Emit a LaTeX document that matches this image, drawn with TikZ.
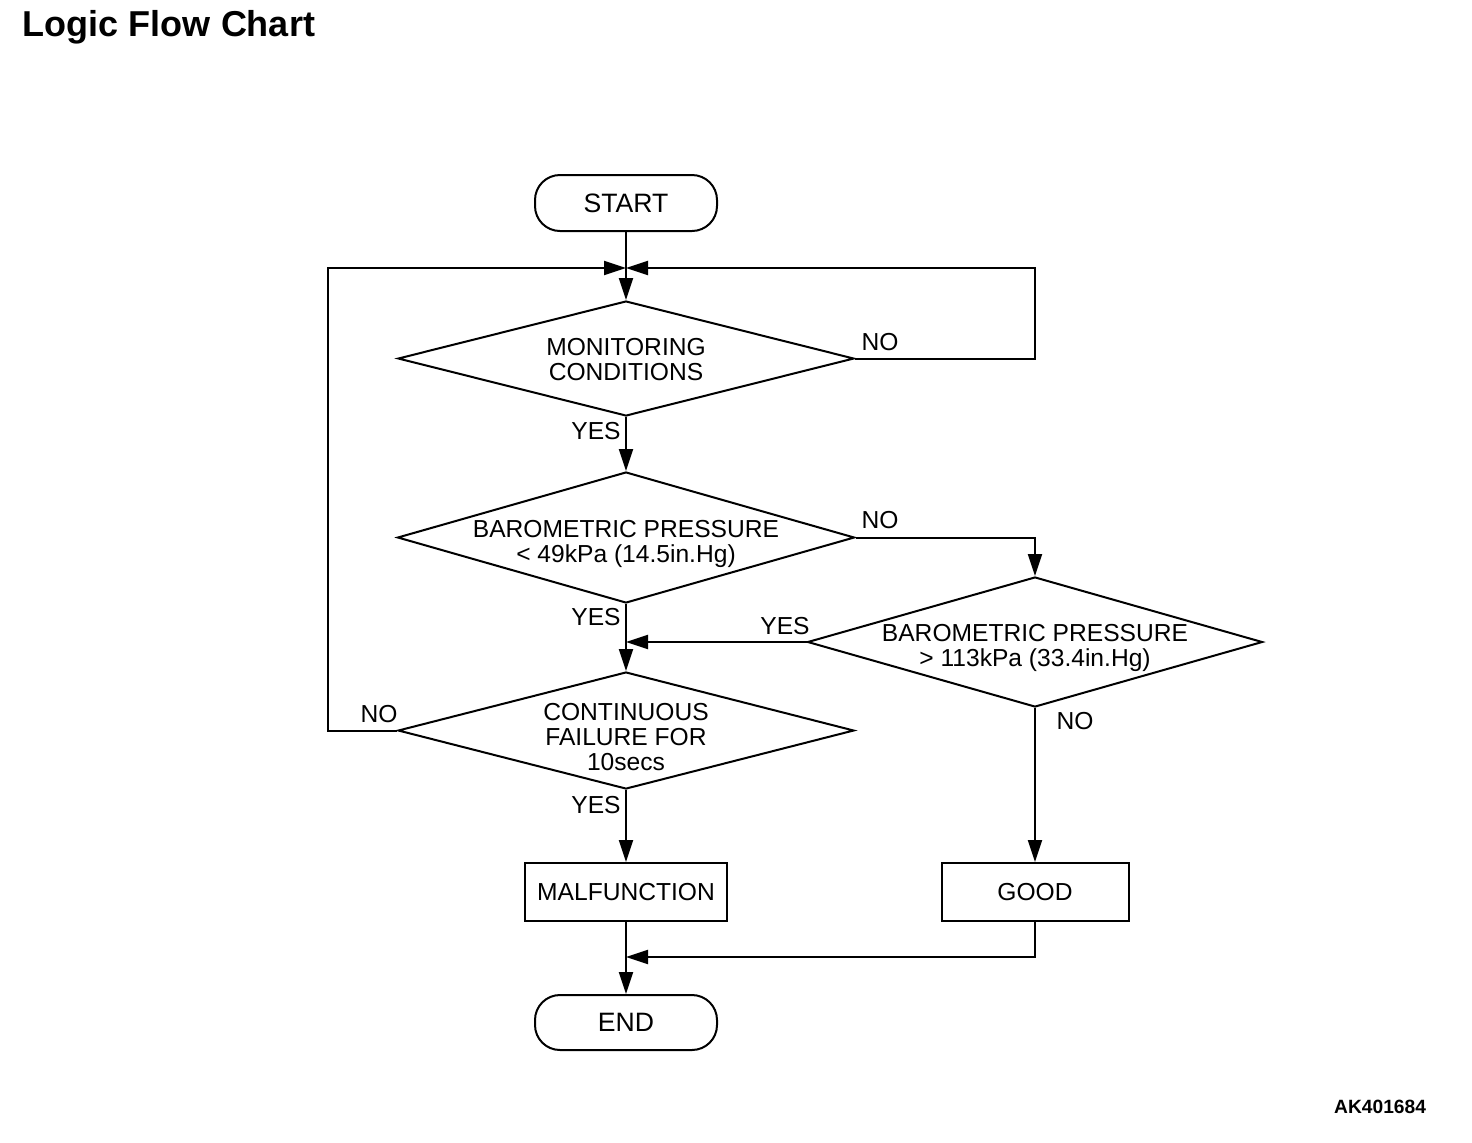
\documentclass[tikz,border=0pt]{standalone}
\usepackage{fontspec}
\setmainfont{Liberation Sans}
\usetikzlibrary{shapes.geometric,arrows.meta}
\begin{document}
\begin{tikzpicture}[x=0.5pt,y=-0.5pt,
  line width=1pt,
  txt/.style={font=\fontsize{12.3}{12.5}\selectfont, inner sep=0pt, align=center},
  term/.style={draw, rounded corners=12.5pt, minimum width=91pt, inner sep=0pt, txt, font=\fontsize{13.3}{14}\selectfont},
  proc/.style={draw, minimum height=29pt, inner sep=0pt, txt},
  dia/.style={draw, diamond, inner sep=0pt},
  arr/.style={-{Triangle[length=11pt,width=7pt]}}
]
\useasboundingbox (0,0) rectangle (1472,1142);

\node[anchor=west, font=\fontsize{18}{20}\selectfont\bfseries, inner sep=0pt] (title) at (22,27) {Logic Flow Chart};
\node[anchor=east, font=\fontsize{9.6}{11}\selectfont\bfseries, inner sep=0pt] (code) at (1427,1107) {AK401684};

\node[term, minimum height=28pt] (start) at (626,203) {START};
\node[dia, minimum width=228pt, minimum height=57.5pt] (d1) at (626,358.5) {};
\node[txt] (t1) at (626,359.5) {MONITORING\\CONDITIONS};
\node[dia, minimum width=228.5pt, minimum height=65.5pt] (d2) at (626,537.5) {};
\node[txt] (t2) at (626,543.5) {BAROMETRIC PRESSURE\\< 49kPa (14.5in.Hg)};
\node[dia, minimum width=227.5pt, minimum height=65pt] (d3) at (1035,642) {};
\node[txt] (t3) at (1035,647.5) {BAROMETRIC PRESSURE\\> 113kPa (33.4in.Hg)};
\node[dia, minimum width=228pt, minimum height=58.5pt] (d4) at (626,730.5) {};
\node[txt] (t4) at (626,737) {CONTINUOUS\\FAILURE FOR\\10secs};
\node[proc, minimum width=101pt] (malf) at (626,892) {MALFUNCTION};
\node[proc, minimum width=93.5pt] (good) at (1035,892) {GOOD};
\node[term, minimum height=27.5pt] (end) at (626,1022.5) {END};

\coordinate (m) at (626,268);
\coordinate (r1) at (1035,268);
\coordinate (l1) at (328,268);
\coordinate (j) at (626,642);
\coordinate (j2) at (626,957);

\draw[arr] (start.south) -- (d1.north);
\draw[arr] (d1.east) -| (r1) -- (m);
\draw[arr] (d4.west) -| (l1) -- (m);
\draw[arr] (d1.south) -- (d2.north);
\draw[arr] (d2.east) -| (d3.north);
\draw[arr] (d2.south) -- (d4.north);
\draw[arr] (d3.west) -- (j);
\draw[arr] (d3.south) -- (good.north);
\draw[arr] (d4.south) -- (malf.north);
\draw[arr] (malf.south) -- (end.north);
\draw[arr] (good.south) |- (j2);

\node[txt] (n1) at (880,342) {NO};
\node[txt] (y1) at (596,431) {YES};
\node[txt] (n2) at (880,520) {NO};
\node[txt] (y3) at (785,626) {YES};
\node[txt] (y2) at (596,617) {YES};
\node[txt] (n4) at (379,714) {NO};
\node[txt] (y4) at (596,805) {YES};
\node[txt] (n3) at (1075,721) {NO};
\end{tikzpicture}
\end{document}
